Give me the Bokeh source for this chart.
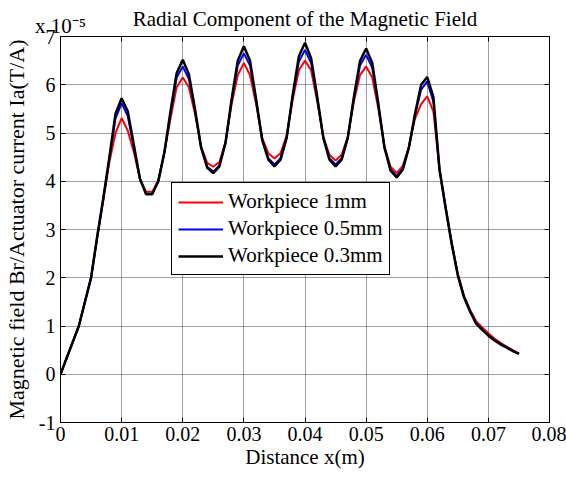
from bokeh.plotting import figure
from bokeh.models import Range1d, FixedTicker, LinearAxis, Legend, LegendItem
from bokeh.embed import file_html
from bokeh.resources import INLINE

FONT = "Liberation Serif"

# Distance x (m)
x_dist = [0.000, 0.003, 0.005, 0.006, 0.007, 0.008, 0.009, 0.010, 0.011, 0.012,
          0.013, 0.014, 0.015, 0.016, 0.017, 0.018, 0.019, 0.020, 0.021, 0.022,
          0.023, 0.024, 0.025, 0.026, 0.027, 0.028, 0.029, 0.030, 0.031, 0.032,
          0.033, 0.034, 0.035, 0.036, 0.037, 0.038, 0.039, 0.040, 0.041, 0.042,
          0.043, 0.044, 0.045, 0.046, 0.047, 0.048, 0.049, 0.050, 0.051, 0.052,
          0.053, 0.054, 0.055, 0.056, 0.057, 0.058, 0.059, 0.060, 0.061, 0.062,
          0.063, 0.064, 0.065, 0.066, 0.067, 0.068, 0.069, 0.070, 0.071, 0.072,
          0.073, 0.074, 0.075]

# Br / Ia in units of 1e-5 T/A
br_1mm = [0.00, 1.00, 2.00, 2.82, 3.60, 4.40, 5.00, 5.31, 5.05, 4.60,
          4.05, 3.78, 3.78, 4.02, 4.60, 5.30, 5.95, 6.15, 5.95, 5.40,
          4.72, 4.38, 4.30, 4.40, 4.82, 5.60, 6.20, 6.45, 6.20, 5.60,
          4.90, 4.58, 4.47, 4.58, 4.95, 5.70, 6.30, 6.50, 6.30, 5.65,
          4.92, 4.55, 4.43, 4.55, 4.92, 5.65, 6.20, 6.38, 6.15, 5.50,
          4.72, 4.30, 4.17, 4.32, 4.72, 5.30, 5.60, 5.76, 5.45, 4.25,
          3.47, 2.73, 2.08, 1.63, 1.34, 1.10, 0.97, 0.85, 0.74, 0.65,
          0.57, 0.50, 0.43]

br_05mm = [0.00, 1.00, 2.00, 2.84, 3.63, 4.47, 5.30, 5.62, 5.35, 4.70,
           4.05, 3.74, 3.74, 4.00, 4.60, 5.40, 6.15, 6.38, 6.12, 5.47,
           4.70, 4.30, 4.20, 4.33, 4.80, 5.67, 6.40, 6.65, 6.40, 5.67,
           4.86, 4.48, 4.35, 4.48, 4.90, 5.77, 6.48, 6.72, 6.45, 5.72,
           4.90, 4.48, 4.35, 4.48, 4.90, 5.72, 6.40, 6.62, 6.35, 5.57,
           4.70, 4.24, 4.11, 4.26, 4.70, 5.37, 5.90, 6.07, 5.65, 4.25,
           3.46, 2.71, 2.06, 1.61, 1.31, 1.06, 0.93, 0.81, 0.71, 0.63,
           0.56, 0.49, 0.42]

br_03mm = [0.00, 1.00, 2.00, 2.85, 3.65, 4.50, 5.40, 5.72, 5.45, 4.75,
           4.05, 3.73, 3.73, 4.00, 4.60, 5.45, 6.24, 6.52, 6.22, 5.50,
           4.70, 4.28, 4.17, 4.31, 4.80, 5.70, 6.50, 6.80, 6.50, 5.70,
           4.85, 4.45, 4.31, 4.45, 4.90, 5.80, 6.59, 6.87, 6.55, 5.75,
           4.90, 4.45, 4.31, 4.45, 4.90, 5.75, 6.49, 6.75, 6.45, 5.60,
           4.70, 4.22, 4.08, 4.24, 4.70, 5.40, 6.00, 6.16, 5.75, 4.25,
           3.45, 2.70, 2.05, 1.60, 1.30, 1.05, 0.92, 0.80, 0.70, 0.62,
           0.55, 0.48, 0.42]

series_names = ["Workpiece 1mm", "Workpiece 0.5mm", "Workpiece 0.3mm"]
series_colors = ["#ff0000", "#0000ff", "#000000"]

x_ticks = [0.0, 0.01, 0.02, 0.03, 0.04, 0.05, 0.06, 0.07, 0.08]
x_tick_labels = ["0", "0.01", "0.02", "0.03", "0.04", "0.05", "0.06", "0.07", "0.08"]
y_ticks = [-1, 0, 1, 2, 3, 4, 5, 6, 7]
y_tick_labels = ["-1", "0", "1", "2", "3", "4", "5", "6", "7"]

title_text = "Radial Component of the Magnetic Field"
exponent_text = "x 10\u207b\u2075"
x_label = "Distance x(m)"
y_label = "Magnetic field Br/Actuator current Ia(T/A)"

p = figure(width=566, height=477, x_range=Range1d(0, 0.08), y_range=Range1d(-1, 7),
           output_backend="svg", toolbar_location=None, title=None,
           min_border_left=58, min_border_right=17, min_border_top=36, min_border_bottom=55)
p.background_fill_color = "white"
p.border_fill_color = "white"
p.outline_line_color = "black"
p.outline_line_width = 1


def style_axis(ax, ticks, labels, show_labels=True):
    ax.ticker = FixedTicker(ticks=ticks)
    ax.major_tick_in = 5
    ax.major_tick_out = 0
    ax.minor_tick_line_color = None
    ax.axis_line_color = "black"
    ax.major_tick_line_color = "black"
    ax.major_label_text_font = FONT
    ax.axis_label_text_font = FONT
    ax.axis_label_text_font_style = "normal"
    ax.axis_label_text_font_size = "21px"
    ax.axis_label_text_color = "black"
    if show_labels:
        ax.major_label_overrides = {t: l for t, l in zip(ticks, labels)}
        ax.major_label_text_font_size = "20px"
        ax.major_label_text_color = "black"
    else:
        ax.major_label_text_font_size = "0px"
        ax.major_label_text_color = None
        ax.major_label_standoff = 0


xax = p.xaxis[0]
style_axis(xax, x_ticks, x_tick_labels)
xax.major_label_standoff = 4
xax.axis_label = x_label
xax.axis_label_standoff = 1

yax = p.yaxis[0]
style_axis(yax, y_ticks, y_tick_labels)
yax.major_label_standoff = 5
yax.axis_label = y_label
yax.axis_label_text_font_size = "22px"
yax.axis_label_standoff = 7

top_ax = LinearAxis()
style_axis(top_ax, x_ticks, x_tick_labels, show_labels=False)
p.add_layout(top_ax, "above")
right_ax = LinearAxis()
style_axis(right_ax, y_ticks, y_tick_labels, show_labels=False)
p.add_layout(right_ax, "right")


def text_row(positions, texts, size, standoff, align):
    ax = LinearAxis()
    ax.ticker = FixedTicker(ticks=positions)
    ax.major_label_overrides = {t: s for t, s in zip(positions, texts)}
    ax.axis_line_color = None
    ax.major_tick_line_color = None
    ax.minor_tick_line_color = None
    ax.major_tick_in = 0
    ax.major_tick_out = 0
    ax.major_label_text_font = FONT
    ax.major_label_text_font_size = size
    ax.major_label_text_color = "black"
    ax.major_label_text_align = align
    ax.major_label_standoff = standoff
    return ax


# exponent marker above the top-left corner, then the chart title
exp_positions = [0.0]
p.add_layout(text_row(exp_positions, [exponent_text], "21px", -1, "left"), "above")
title_positions = [0.04]
p.add_layout(text_row(title_positions, [title_text], "21px", -20, "center"), "above")

p.xgrid.ticker = FixedTicker(ticks=x_ticks)
p.ygrid.ticker = FixedTicker(ticks=y_ticks)
for g in (p.xgrid[0], p.ygrid[0]):
    g.grid_line_color = "black"
    g.grid_line_alpha = 0.75
    g.grid_line_dash = "1 1"
    g.grid_line_width = 1

renderers = []
widths = [2, 2, 2.5]
for ys, col, w in zip([br_1mm, br_05mm, br_03mm], series_colors, widths):
    r = p.line(x_dist, ys, line_color=col, line_width=w)
    renderers.append(r)

legend = Legend(items=[LegendItem(label=n, renderers=[r]) for n, r in zip(series_names, renderers)],
                location=(111, 147))
legend.border_line_color = "black"
legend.border_line_width = 1
legend.border_line_alpha = 1
legend.background_fill_color = "white"
legend.background_fill_alpha = 1
legend.label_text_font = FONT
legend.label_text_font_size = "21px"
legend.label_text_color = "black"
legend.glyph_width = 45
legend.glyph_height = 22
legend.label_height = 22
legend.spacing = 2
legend.padding = 6
legend.margin = 0
legend.label_standoff = 5
p.add_layout(legend, "center")

open("out.html", "w").write(file_html(p, INLINE))
